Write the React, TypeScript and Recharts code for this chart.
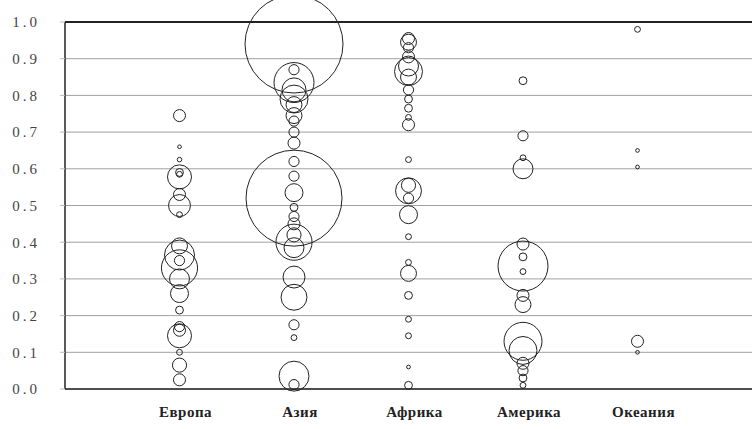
import React from 'react';
import {
  ScatterChart,
  Scatter,
  XAxis,
  YAxis,
  ZAxis,
  CartesianGrid,
  ReferenceLine,
} from 'recharts';

// Continents along the horizontal axis
const continents = ['Европа', 'Азия', 'Африка', 'Америка', 'Океания'];

// Index values (0..1) and population (millions) for each country, per continent
const europeValues = [0.745, 0.66, 0.625, 0.59, 0.585, 0.578, 0.53, 0.5, 0.475, 0.39, 0.365, 0.35, 0.33, 0.3, 0.26, 0.215, 0.17, 0.16, 0.145, 0.1, 0.065, 0.025];
const europeSizes = [21, 2, 3, 9, 5, 84, 21, 70, 5, 37, 131, 15, 190, 58, 47, 9, 15, 21, 84, 5, 29, 21];

const asiaValues = [0.94, 0.87, 0.835, 0.815, 0.79, 0.775, 0.745, 0.73, 0.7, 0.67, 0.62, 0.58, 0.535, 0.52, 0.495, 0.47, 0.45, 0.42, 0.4, 0.385, 0.305, 0.25, 0.175, 0.14, 0.035, 0.012];
const asiaSizes = [1400, 15, 233, 84, 114, 37, 37, 15, 15, 21, 15, 15, 47, 1343, 9, 15, 21, 29, 190, 58, 70, 98, 15, 5, 131, 15];

const africaValues = [0.955, 0.945, 0.93, 0.905, 0.88, 0.865, 0.85, 0.815, 0.79, 0.765, 0.74, 0.72, 0.625, 0.555, 0.54, 0.52, 0.475, 0.415, 0.345, 0.315, 0.255, 0.19, 0.145, 0.06, 0.01];
const africaSizes = [21, 37, 15, 21, 58, 114, 37, 15, 9, 9, 5, 21, 5, 29, 98, 15, 47, 5, 5, 37, 9, 5, 5, 2, 9];

const americaValues = [0.84, 0.69, 0.63, 0.6, 0.395, 0.36, 0.335, 0.32, 0.255, 0.23, 0.13, 0.105, 0.07, 0.05, 0.03, 0.01];
const americaSizes = [9, 15, 5, 58, 21, 9, 364, 5, 21, 37, 210, 114, 21, 15, 9, 5];

const oceaniaValues = [0.98, 0.65, 0.605, 0.13, 0.1];
const oceaniaSizes = [5, 2, 2, 21, 2];

const yTicks = [0, 0.1, 0.2, 0.3, 0.4, 0.5, 0.6, 0.7, 0.8, 0.9, 1.0];
const xTicks = [1, 2, 3, 4, 5];

const seriesList = [
  { values: europeValues, sizes: europeSizes },
  { values: asiaValues, sizes: asiaSizes },
  { values: africaValues, sizes: africaSizes },
  { values: americaValues, sizes: americaSizes },
  { values: oceaniaValues, sizes: oceaniaSizes },
].map((s, idx) => ({
  name: continents[idx],
  data: s.values.map((v, i) => ({ x: idx + 1, y: v, z: s.sizes[i] })),
}));

const labelFont = '"Liberation Serif", "DejaVu Serif", serif';

export default function App() {
  return (
    <div style={{ position: 'absolute', left: 0, top: 0, width: 755, height: 429, background: '#fff' }}>
      <ScatterChart
        width={755}
        height={429}
        margin={{ top: 22, right: 3, bottom: 0, left: 0 }}
      >
        <CartesianGrid horizontal vertical={false} stroke="#a0a0a0" />
        <XAxis
          type="number"
          dataKey="x"
          domain={[0, 6]}
          ticks={xTicks}
          interval={0}
          height={40}
          tickLine={false}
          tickMargin={11}
          axisLine={{ stroke: '#222', strokeWidth: 1.5 }}
          tickFormatter={(v: number) => continents[v - 1] ?? ''}
          tick={{ fontFamily: labelFont, fontSize: 15, fontWeight: 'bold', fill: '#222', dx: 6, letterSpacing: 0.5 }}
        />
        <YAxis
          type="number"
          dataKey="y"
          domain={[0, 1]}
          ticks={yTicks}
          interval={0}
          width={65}
          tickSize={5}
          tickMargin={20}
          tickLine={{ stroke: '#bbb' }}
          axisLine={{ stroke: '#222', strokeWidth: 1.5 }}
          tickFormatter={(v: number) => v.toFixed(1)}
          tick={{ fontFamily: labelFont, fontSize: 15, fill: '#444', letterSpacing: 3 }}
        />
        <ZAxis type="number" dataKey="z" domain={[0, 1400]} range={[0, 7543]} />
        <ReferenceLine y={1} stroke="#222" strokeWidth={2} />
        {seriesList.map((s) => (
          <Scatter
            key={s.name}
            name={s.name}
            data={s.data}
            shape="circle"
            fill="none"
            stroke="#222"
            strokeWidth={1}
            isAnimationActive={false}
          />
        ))}
      </ScatterChart>
    </div>
  );
}
